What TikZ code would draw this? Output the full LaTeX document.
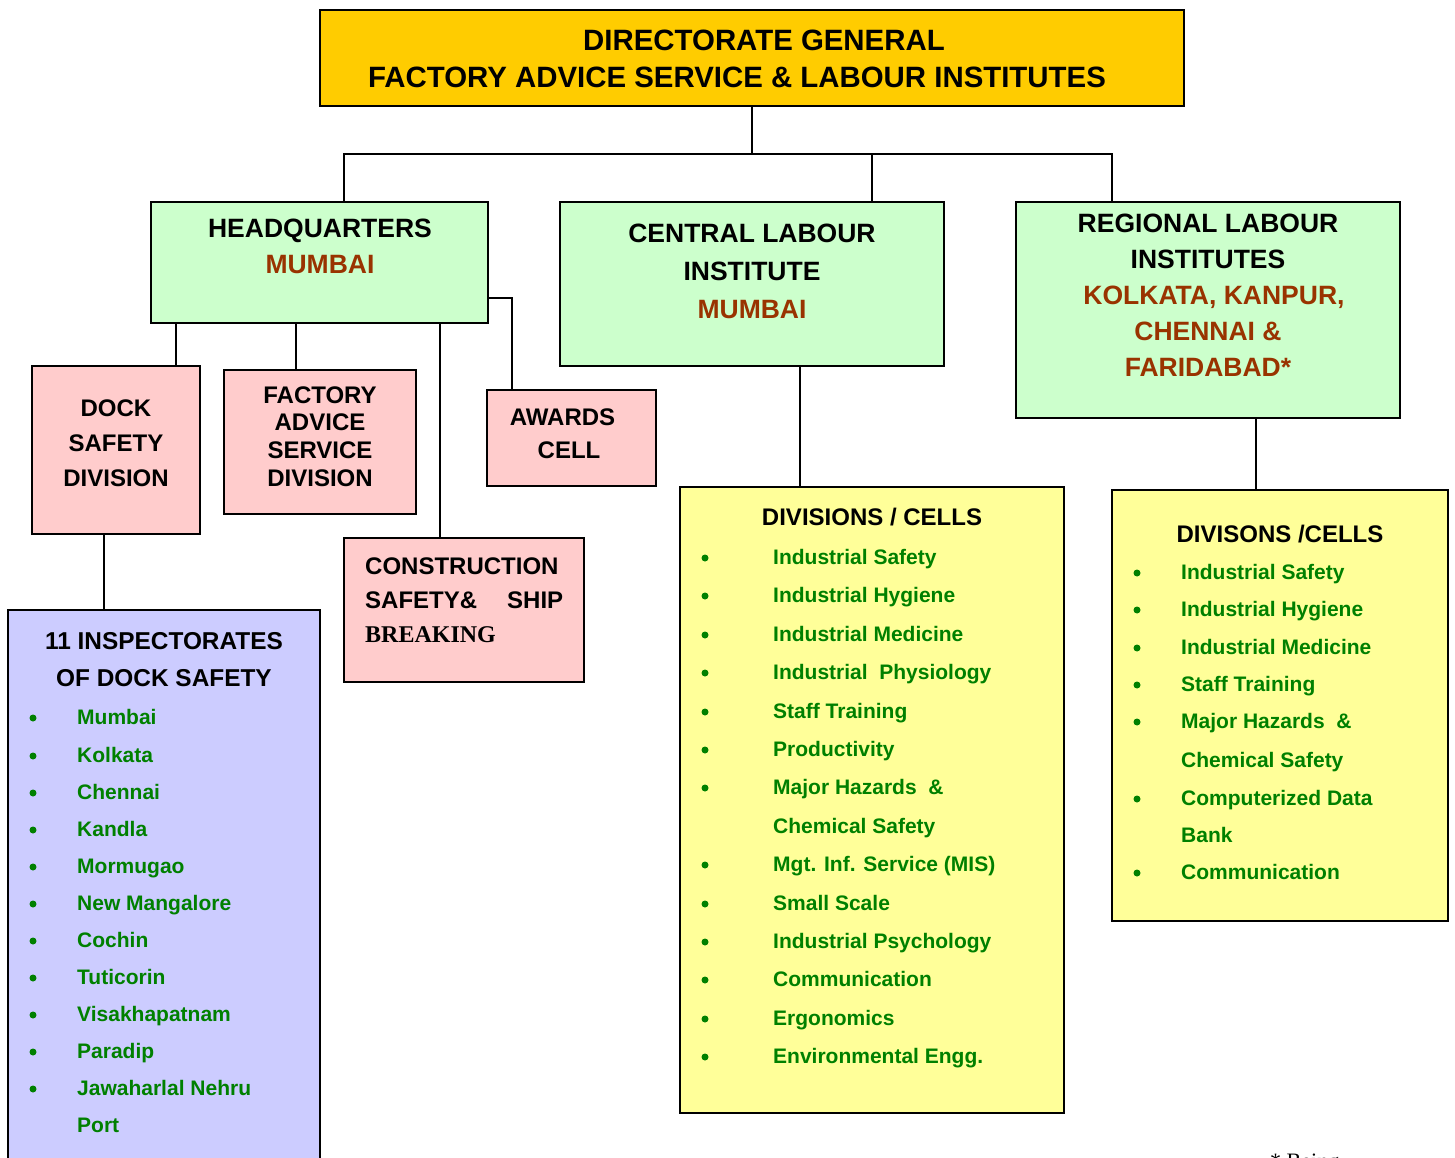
\documentclass[tikz,border=0pt]{standalone}
\usepackage{fontspec}
\setmainfont{Liberation Sans}
\newfontfamily\timesbold{Liberation Serif}

\definecolor{dggold}{HTML}{FFCC00}
\definecolor{instgreen}{HTML}{CCFFCC}
\definecolor{divpink}{HTML}{FFCCCC}
\definecolor{docklilac}{HTML}{CCCCFF}
\definecolor{celllemon}{HTML}{FFFF99}
\definecolor{cellgreen}{HTML}{008000}
\definecolor{citybrown}{HTML}{993300}

\begin{document}
\begin{tikzpicture}[x=1pt, y=-1pt,
    unit/.style ={draw, line width=2pt, anchor=north west, inner sep=0pt, outer sep=0pt},
    topbox/.style ={unit, fill=dggold},
    instbox/.style ={unit, fill=instgreen},
    divbox/.style ={unit, fill=divpink},
    dockbox/.style ={unit, fill=docklilac},
    cellbox/.style ={unit, fill=celllemon},
    link/.style ={line width=2pt},
    toptext/.style ={inner sep=0pt, font=\fontsize{29.4}{37}\selectfont\bfseries},
    insttext/.style ={inner sep=0pt, align=center, font=\fontsize{26.5}{36}\selectfont\bfseries},
    divtext/.style ={inner sep=0pt, align=center, font=\fontsize{24}{35}\selectfont\bfseries},
    listhead/.style ={inner sep=0pt, align=center, font=\fontsize{24}{37}\selectfont\bfseries},
    cell/.style ={anchor=base west, inner sep=0pt, text=cellgreen, font=\fontsize{21}{25}\selectfont\bfseries}]
   \useasboundingbox (0,0) rectangle (1455,1158);
   \clip (0,0) rectangle (1455,1158);

   % boxes
   \node[topbox, minimum width=864pt, minimum height=96pt] (dg) at (320,10) {};
   \node[instbox, minimum width=337pt, minimum height=121pt] (hq) at (151,202) {};
   \node[instbox, minimum width=384pt, minimum height=164pt] (cli) at (560,202) {};
   \node[instbox, minimum width=384pt, minimum height=216pt] (rli) at (1016,202) {};
   \node[divbox, minimum width=168pt, minimum height=168pt] (dock) at (32,366) {};
   \node[divbox, minimum width=192pt, minimum height=144pt] (fasd) at (224,370) {};
   \node[divbox, minimum width=169pt, minimum height=96pt] (awards) at (487,390) {};
   \node[divbox, minimum width=240pt, minimum height=144pt] (csb) at (344,538) {};
   \node[dockbox, minimum width=312pt, minimum height=570pt] (insp) at (8,610) {};
   \node[cellbox, minimum width=384pt, minimum height=626pt] (clicells) at (680,487) {};
   \node[cellbox, minimum width=336pt, minimum height=431pt] (rlicells) at (1112,490) {};

   % box texts
   \node[toptext] (dg-a) at (764,40) {DIRECTORATE GENERAL};
   \node[toptext] (dg-b) at (737,77) {FACTORY ADVICE SERVICE \& LABOUR INSTITUTES};
   \node[insttext] (hq-t) at (320,246) {HEADQUARTERS\\\textcolor{citybrown}{MUMBAI}};
   \node[insttext, font=\fontsize{26.5}{38}\selectfont\bfseries] (cli-t) at (752,271)
      {CENTRAL LABOUR\\INSTITUTE\\\textcolor{citybrown}{MUMBAI}};
   \node[insttext] (rli-t) at (1208,295.5) {REGIONAL LABOUR\\INSTITUTES\\
      \hspace*{12pt}\textcolor{citybrown}{KOLKATA, KANPUR,}\\\textcolor{citybrown}{CHENNAI \&}\\
      \textcolor{citybrown}{FARIDABAD*}};
   \node[divtext] (dock-t) at (116,443) {DOCK\\SAFETY\\DIVISION};
   \node[divtext, font=\fontsize{24}{27.7}\selectfont\bfseries] (fasd-t) at (320,436.5)
      {FACTORY\\ADVICE\\SERVICE\\DIVISION};
   \node[divtext, font=\fontsize{24}{33}\selectfont\bfseries] (awards-t) at (566,433.5)
      {AWARDS\hspace*{7pt}\\\hspace*{6pt}CELL};
   \node[divtext, align=left, anchor=west, font=\fontsize{24}{34}\selectfont\bfseries] (csb-t) at (365,600.5)
      {CONSTRUCTION\\SAFETY\&\hspace{30pt}SHIP\\{\timesbold BREAKING}};
   \node[listhead, font=\fontsize{24.4}{37}\selectfont\bfseries] (insp-t) at (164,659.5) {11 INSPECTORATES\\OF DOCK SAFETY};
   \node[listhead] (clicells-t) at (872,517) {DIVISIONS / CELLS};
   \node[listhead] (rlicells-t) at (1280,534) {DIVISONS /CELLS};

   % bulleted lists (y / bullet / text)
   \foreach \y/\b/\t in {717/1/Mumbai, 755/1/Kolkata, 792/1/Chennai, 829/1/Kandla,
      866/1/Mormugao, 903/1/New Mangalore, 940/1/Cochin, 977/1/Tuticorin,
      1014/1/Visakhapatnam, 1051/1/Paradip, 1088/1/Jawaharlal Nehru, 1125/0/Port}{
      \node[cell] (port-\y) at (77,\y+7) {\t};
      \ifnum\b=1 \fill[cellgreen] (33,\y+1) circle (3.5); \fi
   }
   \foreach \y/\b/\t in {557/1/Industrial Safety, 595/1/Industrial Hygiene,
      634/1/Industrial Medicine, 672/1/Industrial~~Physiology, 711/1/Staff Training,
      749/1/Productivity, 787/1/Major Hazards~~\&, 826/0/Chemical Safety,
      864/1/Mgt. Inf. Service (MIS), 903/1/Small Scale, 941/1/Industrial Psychology,
      979/1/Communication, 1018/1/Ergonomics, 1056/1/Environmental Engg.}{
      \node[cell] (clicell-\y) at (773,\y+7) {\t};
      \ifnum\b=1 \fill[cellgreen] (705,\y+1) circle (3.5); \fi
   }
   \foreach \y/\b/\t in {572/1/Industrial Safety, 609/1/Industrial Hygiene,
      647/1/Industrial Medicine, 684/1/Staff Training, 721/1/Major Hazards~~\&,
      760/0/Chemical Safety, 798/1/Computerized Data, 835/0/Bank, 872/1/Communication}{
      \node[cell] (rlicell-\y) at (1181,\y+7) {\t};
      \ifnum\b=1 \fill[cellgreen] (1137,\y+1) circle (3.5); \fi
   }

   % footnote running off the page
   \node[anchor=base west, inner sep=0pt, font=\fontsize{22}{26}\selectfont\timesbold] (note) at (1270,1168) {* Being};

   % connectors
   \coordinate (bus) at (dg.south |- 0,154);
   \draw[link] (dg.south) -- (bus);
   \draw[link] (hq.north -| 344,0) |- (bus) -| (rli.north -| 1112,0);
   \draw[link] (bus -| 872,0) -- (cli.north -| 872,0);
   \draw[link] (hq.south -| 176,0) -- (dock.north -| 176,0);
   \draw[link] (hq.south -| 296,0) -- (fasd.north -| 296,0);
   \draw[link] (hq.south -| 440,0) -- (csb.north -| 440,0);
   \draw[link] (hq.east |- 0,298) -| (awards.north -| 512,0);
   \draw[link] (cli.south -| 800,0) -- (clicells.north -| 800,0);
   \draw[link] (rli.south -| 1256,0) -- (rlicells.north -| 1256,0);
   \draw[link] (dock.south -| 104,0) -- (insp.north -| 104,0);
 \end{tikzpicture}
\end{document}
